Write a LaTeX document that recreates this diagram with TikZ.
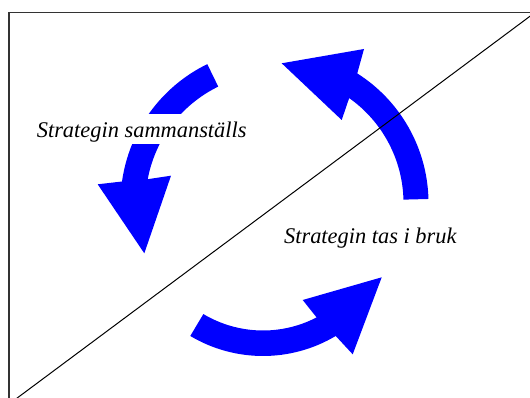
\documentclass[tikz,border=0pt]{standalone}
\usepackage{fontspec}
\setmainfont{Liberation Serif}
\usetikzlibrary{calc}
\definecolor{arrowblue}{RGB}{0,0,255}
\begin{document}
\begin{tikzpicture}[x=0.75pt,y=-0.75pt,
  cyclearrow/.style={fill=arrowblue, draw=none},
  phasetext/.style={font=\fontsize{16.8}{20}\selectfont\itshape, fill=white,
    inner xsep=3pt, inner ysep=0pt, text height=17.25pt, text depth=5pt, anchor=base},
  borderline/.style={draw=black!80, line width=0.8pt},
  divider/.style={draw=black, line width=0.75pt}]
\useasboundingbox (0,0) rectangle (530,398);
\clip (0,0) rectangle (530,398);

% centres of the circular arcs
\coordinate (c1) at (275,203);
\coordinate (c3) at (263,214);

% outer frame (right and bottom edges lie outside the page)
\coordinate (fbl) at (9,402);
\coordinate (ftl) at (9,12.7);
\coordinate (ftr) at (534,12.7);
\draw[borderline] (fbl) -- (ftl) -- (ftr);

% upper-left arrow: runs down the left side
\fill[cyclearrow] ($(c1)+(-116:154.5)$) arc[start angle=-116, end angle=-172, radius=154.5]
  -- (97.7,184.3) -- (144.3,253.3) -- (171,175.7)
  -- ($(c1)+(-169.4:129.5)$) arc[start angle=-169.4, end angle=-116, radius=129.5] -- cycle;

% right arrow: runs up the right side
\fill[cyclearrow] ($(c1)+(-1.5:153.5)$) arc[start angle=-1.5, end angle=-57.6, radius=153.5]
  -- (364,49) -- (281.7,63.3) -- (341.7,120)
  -- ($(c1)+(-54.75:128.5)$) arc[start angle=-54.75, end angle=-1.5, radius=128.5] -- cycle;

% bottom arrow: runs along the bottom to the right
\fill[cyclearrow] ($(c3)+(-239.2:142)$) arc[start angle=-239.2, end angle=-300.8, radius=142]
  -- (352.7,354.3) -- (381.7,277.3) -- (302.7,300)
  -- ($(c3)+(-297.4:116.5)$) arc[start angle=-297.4, end angle=-239.2, radius=116.5] -- cycle;

% phase labels
\node[phasetext] (plan) at (141.7,137.3) {Strategin sammanställs};
\node[phasetext] (use) at (370.3,243.3) {Strategin tas i bruk};

% diagonal dividing line
\coordinate (dstart) at (16.4,398.6);
\coordinate (dend) at (530.6,15.8);
\draw[divider] (dstart) -- (dend);
\end{tikzpicture}
\end{document}
